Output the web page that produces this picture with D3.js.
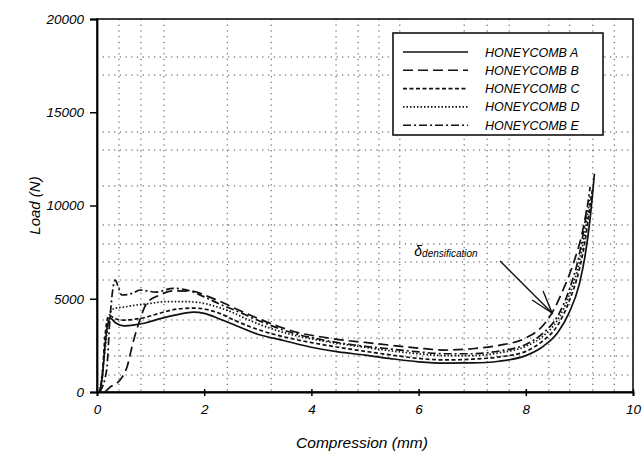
<!DOCTYPE html>
<html>
<head>
<meta charset="utf-8">
<script src="https://cdn.jsdelivr.net/npm/d3@7"></script>
<style>
  body { margin: 0; background: #fff; }
  svg text { font-family: "Liberation Sans", Arial, sans-serif; font-style: italic; fill: #000; }
  .line { fill: none; stroke: #111; stroke-width: 1.7; }
  .grid line { stroke: #444; stroke-width: 1; stroke-dasharray: 1.2,4.5; }
</style>
</head>
<body>
<div id="chart"></div>
<script>
// data: [compression mm, load N]
var honeyA = [[0.05,0],[0.1,800],[0.15,2500],[0.2,3600],[0.25,3950],[0.35,3700],[0.5,3550],[0.7,3600],[0.9,3700],
  [1.2,3950],[1.5,4150],[1.8,4280],[2.0,4220],[2.3,3900],[2.6,3550],[3.0,3100],[3.5,2750],[4.0,2400],[4.5,2150],
  [5.0,1980],[5.5,1780],[6.0,1620],[6.5,1550],[7.0,1560],[7.5,1650],[8.0,1950],[8.3,2400],[8.6,3200],[8.8,4200],
  [9.0,5800],[9.1,7200],[9.2,9300],[9.28,11700]];
var honeyB = [[0.15,0],[0.25,270],[0.43,640],[0.56,1340],[0.67,2630],[0.8,3860],[0.93,4770],[1.17,5200],[1.42,5420],
  [1.8,5400],[2.0,5200],[2.3,4850],[2.6,4450],[3.0,3950],[3.4,3500],[3.8,3150],[4.2,2950],[4.6,2780],[5.0,2660],
  [5.5,2500],[6.0,2350],[6.5,2250],[7.0,2320],[7.5,2500],[8.0,2900],[8.3,3500],[8.5,4300],[8.7,5500],[8.9,7000],
  [9.05,8500],[9.15,10000]];
var honeyC = [[0.05,0],[0.1,1000],[0.15,3000],[0.22,4100],[0.3,4000],[0.45,3850],[0.7,3900],[0.9,4000],[1.2,4250],
  [1.5,4450],[1.8,4500],[2.0,4450],[2.3,4200],[2.6,3800],[3.0,3350],[3.5,2950],[4.0,2650],[4.5,2400],[5.0,2180],
  [5.5,1980],[6.0,1800],[6.5,1720],[7.0,1760],[7.5,1880],[8.0,2180],[8.3,2700],[8.6,3600],[8.8,4800],[9.0,6600],
  [9.1,8000],[9.2,10000],[9.25,11000]];
var honeyD = [[0.05,0],[0.12,1500],[0.2,3500],[0.25,4300],[0.35,4500],[0.5,4550],[0.7,4650],[1.0,4750],[1.3,4850],
  [1.6,4850],[1.9,4800],[2.2,4600],[2.5,4300],[2.8,3900],[3.2,3450],[3.6,3100],[4.0,2850],[4.5,2600],[5.0,2400],
  [5.5,2200],[6.0,2050],[6.5,1950],[7.0,1950],[7.5,2100],[8.0,2450],[8.3,2950],[8.6,3900],[8.8,5100],[9.0,7000],
  [9.1,8500],[9.2,10500]];
var honeyE = [[0.05,0],[0.18,1180],[0.24,3860],[0.3,5600],[0.34,6000],[0.4,5600],[0.46,5200],[0.67,5300],[0.8,5470],
  [1.1,5360],[1.42,5560],[1.7,5450],[2.0,5100],[2.3,4700],[2.6,4350],[3.0,3850],[3.4,3400],[3.8,3050],[4.2,2800],
  [4.6,2600],[5.0,2450],[5.5,2300],[6.0,2150],[6.5,2050],[7.0,2050],[7.5,2200],[8.0,2550],[8.3,3100],[8.6,4100],
  [8.8,5400],[9.0,7400],[9.1,9000],[9.2,11000]];

var seriesNames = ["HONEYCOMB A", "HONEYCOMB B", "HONEYCOMB C", "HONEYCOMB D", "HONEYCOMB E"];
var seriesData = [honeyA, honeyB, honeyC, honeyD, honeyE];
var dashes = ["none", "10,5", "4,2.5", "1.5,2", "8,3,2,3"];

var xTicks = [0, 2, 4, 6, 8, 10];
var yTicks = [0, 5000, 10000, 15000, 20000];
// dotted graph-paper lines of the scan (data units)
var gridX = [0.41, 0.82, 1.25, 2.43, 3.25, 4.46, 4.87, 5.26, 5.65, 6.85, 7.28, 7.69, 8.43, 8.82, 9.25, 9.65];
var gridY = [912, 1930, 2895, 3861, 6005, 6971, 7936, 8954, 11046, 12976, 13941, 16997, 17962];

var arrowFrom = [7.52, 7025], arrowTo = [8.49, 4236], noteAt = [5.92, 7300];

var margin = {top: 19, right: 10, bottom: 65, left: 97},
    width = 643 - margin.left - margin.right,
    height = 457 - margin.top - margin.bottom;

var x = d3.scaleLinear().domain([0, 10]).range([0, width]);
var y = d3.scaleLinear().domain([0, 20000]).range([height, 0]);

var svg = d3.select("#chart").append("svg")
    .attr("width", 643)
    .attr("height", 457)
  .append("g")
    .attr("transform", "translate(" + margin.left + "," + margin.top + ")");

var grid = svg.append("g").attr("class", "grid");
grid.selectAll(".gx").data(gridX).enter().append("line")
    .attr("x1", function(d) { return x(d); }).attr("x2", function(d) { return x(d); })
    .attr("y1", 0).attr("y2", height);
grid.selectAll(".gy").data(gridY).enter().append("line")
    .attr("y1", function(d) { return y(d); }).attr("y2", function(d) { return y(d); })
    .attr("x1", 0).attr("x2", width);

// frame
svg.append("rect")
    .attr("width", width).attr("height", height)
    .attr("fill", "none").attr("stroke", "#111").attr("stroke-width", 1.6);

var xAxis = svg.append("g")
    .attr("transform", "translate(0," + height + ")")
    .call(d3.axisBottom(x).tickValues(xTicks).tickFormat(d3.format("d")).tickSize(4).tickPadding(8));
xAxis.selectAll(".tick line").attr("y1", -3).attr("y2", 4).attr("stroke-width", 1.5);
xAxis.selectAll(".tick text").attr("font-size", "13.5px").attr("font-family", null);

var yAxis = svg.append("g")
    .call(d3.axisLeft(y).tickValues(yTicks).tickFormat(d3.format("d")).tickSize(7).tickPadding(6));
yAxis.selectAll(".tick line").attr("stroke-width", 1.5);
yAxis.selectAll(".tick text").attr("font-size", "13.5px").attr("font-family", null);
svg.selectAll(".domain").attr("stroke-width", 1.8);

svg.append("text")
    .attr("x", width / 2 - 3).attr("y", height + 56)
    .attr("text-anchor", "middle").attr("font-size", "15.5px")
    .text("Compression (mm)");

svg.append("text")
    .attr("transform", "translate(-57," + (height / 2) + ") rotate(-90)")
    .attr("text-anchor", "middle").attr("font-size", "15px")
    .text("Load (N)");

var line = d3.line()
    .x(function(d) { return x(d[0]); })
    .y(function(d) { return y(d[1]); })
    .curve(d3.curveMonotoneX);

svg.selectAll(".line").data(seriesData).enter().append("path")
    .attr("class", "line")
    .attr("stroke-dasharray", function(d, i) { return dashes[i]; })
    .attr("d", line);

// annotation
svg.append("line")
    .attr("x1", x(arrowFrom[0])).attr("y1", y(arrowFrom[1]))
    .attr("x2", x(arrowTo[0])).attr("y2", y(arrowTo[1]))
    .attr("stroke", "#111").attr("stroke-width", 1.4);
var tipX = x(arrowTo[0]), tipY = y(arrowTo[1]);
svg.append("path")
    .attr("d", "M" + (tipX - 20) + "," + (tipY - 13) + "L" + tipX + "," + tipY + "L" + (tipX - 9) + "," + (tipY - 22))
    .attr("fill", "none").attr("stroke", "#111").attr("stroke-width", 1.4);
var note = svg.append("text")
    .attr("x", x(noteAt[0])).attr("y", y(noteAt[1]))
    .attr("font-style", "normal").attr("font-size", "14px");
note.append("tspan").text("δ");
note.append("tspan").attr("font-size", "10px").attr("dy", 1).text("densification");

// legend
var legend = svg.append("g").attr("transform", "translate(" + (393 - margin.left) + "," + (33 - margin.top) + ")");
legend.append("rect")
    .attr("width", 210).attr("height", 102)
    .attr("fill", "#fff").attr("stroke", "#111").attr("stroke-width", 1.6);
var items = legend.selectAll(".item").data(seriesNames).enter().append("g")
    .attr("transform", function(d, i) { return "translate(0," + (19 + i * 18.3) + ")"; });
items.append("line")
    .attr("x1", 10).attr("x2", 75)
    .attr("stroke", "#111").attr("stroke-width", 1.6)
    .attr("stroke-dasharray", function(d, i) { return dashes[i]; });
items.append("text")
    .attr("x", 92).attr("dy", "0.36em")
    .attr("font-size", "12.5px")
    .text(function(d) { return d; });
</script>
</body>
</html>
